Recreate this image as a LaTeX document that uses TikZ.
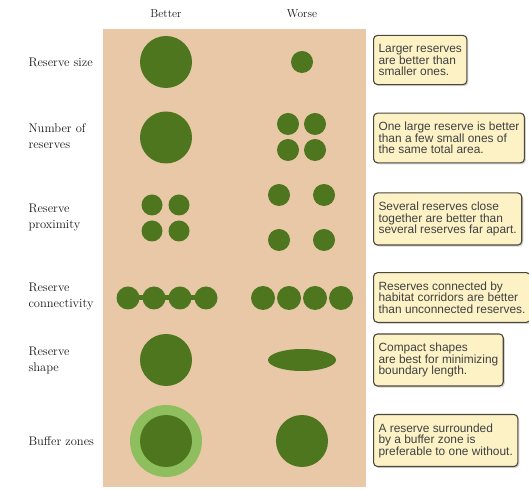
\documentclass[tikz,border=0pt]{standalone}
\usepackage{fontspec}
\newfontfamily\notefont{Liberation Sans}
\usepackage{xcolor}
\usetikzlibrary{shapes,shapes.geometric,shadows,positioning}
\definecolor{tan}{RGB}{233,200,168}
\definecolor{forest}{RGB}{77,118,30}
\definecolor{leaf}{RGB}{143,190,95}
\definecolor{notefill}{RGB}{252,242,198}
\definecolor{noteline}{RGB}{75,72,58}

\tikzset{
  reserve/.style={circle,fill=forest,inner sep=0pt,minimum size=#1},
  rowlabel/.style={anchor=west,align=left,text=black!90,font=\fontsize{12.5}{16}\selectfont},
  colhead/.style={text=black!90,font=\fontsize{11.5}{14}\selectfont},
  notebox/.style={draw=noteline,fill=notefill,rounded corners=4pt,line width=1.1pt,
    anchor=west,align=left,inner xsep=5pt,inner ysep=9pt,text=black!75,
    font=\notefont\fontsize{11.9}{11.5}\selectfont,
    drop shadow={shadow xshift=1.5pt,shadow yshift=-1.5pt,opacity=0.35}}
}

\begin{document}
\begin{tikzpicture}[x=1pt,y=1pt]
\useasboundingbox (0,0) rectangle (529,489);
\fill[tan] (103,2) rectangle (366,460);
\node[colhead] (better) at (166,475) {Better};
\node[colhead] (worse) at (302,475) {Worse};
% size
\node[rowlabel] (sizeL) at (25,427) {Reserve size};
\node[reserve=52pt] (sizeA) at (166,427) {};
\node[reserve=22pt] (sizeB) at (302,427) {};
\node[notebox] (sizeN) at (373,429) {Larger reserves\\are better than\\smaller ones.};
% number
\node[rowlabel] (numL) at (25,353) {Number of\\reserves};
\node[reserve=52pt] (numA) at (166,351.5) {};
\node[reserve=22pt] (numB1) at (288,365) {};
\node[reserve=22pt] (numB2) at (315,365) {};
\node[reserve=22pt] (numB3) at (288,339) {};
\node[reserve=22pt] (numB4) at (315,339) {};
\node[notebox] (numN) at (373,351) {One large reserve is better\\than a few small ones of\\the same total area.};
% proximity
\node[rowlabel] (proxL) at (25,271) {Reserve\\proximity};
\node[reserve=21pt] (proxA1) at (152,284) {};
\node[reserve=21pt] (proxA2) at (179,284) {};
\node[reserve=21pt] (proxA3) at (152,258) {};
\node[reserve=21pt] (proxA4) at (179,258) {};
\node[reserve=22pt] (proxB1) at (279,294) {};
\node[reserve=22pt] (proxB2) at (324,294) {};
\node[reserve=22pt] (proxB3) at (279,249) {};
\node[reserve=22pt] (proxB4) at (324,249) {};
\node[notebox] (proxN) at (373,270) {Several reserves close\\together are better than\\several reserves far apart.};
% connectivity
\node[rowlabel] (connL) at (25,192) {Reserve\\connectivity};
\node[reserve=23pt] (connA1) at (128,191) {};
\node[reserve=23pt] (connA2) at (154,191) {};
\node[reserve=23pt] (connA3) at (180,191) {};
\node[reserve=23pt] (connA4) at (206,191) {};
\draw[forest,line width=5pt] (connA1.center)--(connA4.center);
\node[reserve=24pt] (connB1) at (263,191) {};
\node[reserve=24pt] (connB2) at (289,191) {};
\node[reserve=24pt] (connB3) at (315,191) {};
\node[reserve=24pt] (connB4) at (341,191) {};
\node[notebox] (connN) at (373,191.5) {Reserves connected by\\habitat corridors are better\\than unconnected reserves.};
% shape
\node[rowlabel] (shapeL) at (25,129) {Reserve\\shape};
\node[reserve=52pt] (shapeA) at (166,129) {};
\node[ellipse,fill=forest,inner sep=0pt,minimum width=68pt,minimum height=22pt] (shapeB) at (302,129) {};
\node[notebox] (shapeN) at (373,129) {Compact shapes\\are best for minimizing\\boundary length.};
% buffer
\node[rowlabel] (bufL) at (25,48) {Buffer zones};
\node[reserve=72pt,fill=leaf] (bufZ) at (166,48) {};
\node[reserve=52pt] (bufA) at (166,48) {};
\node[reserve=52pt] (bufB) at (302,48) {};
\node[notebox] (bufN) at (373,48.5) {A reserve surrounded\\by a buffer zone is\\preferable to one without.};
\end{tikzpicture}
\end{document}
